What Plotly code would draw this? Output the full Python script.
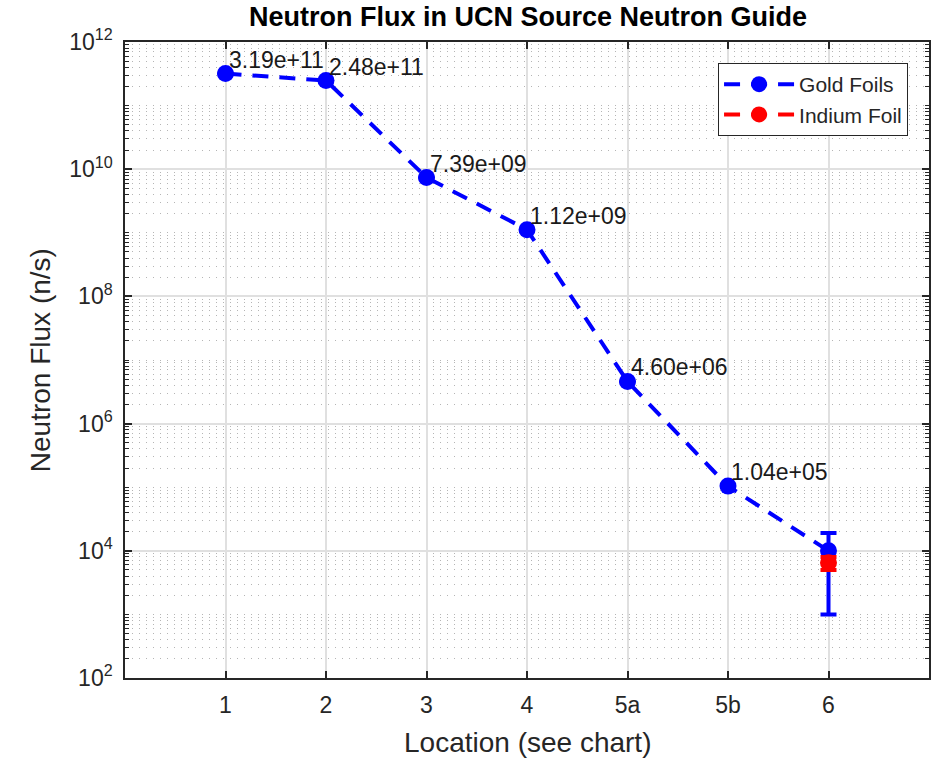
import plotly.graph_objects as go
import math

# ---- data ----
locations = ["1", "2", "3", "4", "5a", "5b", "6"]
gold_flux = [3.19e11, 2.48e11, 7.39e9, 1.12e9, 4.60e6, 1.04e5, 1.0e4]
gold_err = [0, 0, 0, 0, 0, 0, 9.0e3]
indium_loc = ["6"]
indium_flux = [6.5e3]
indium_err = [1.5e3]
label_text = ["3.19e+11", "2.48e+11", "7.39e+09", "1.12e+09", "4.60e+06", "1.04e+05"]
y_major = [1e2, 1e4, 1e6, 1e8, 1e10, 1e12]
y_major_text = ["10<sup>2</sup>", "10<sup>4</sup>", "10<sup>6</sup>", "10<sup>8</sup>",
                "10<sup>10</sup>", "10<sup>12</sup>"]

xpos = list(range(1, len(locations) + 1))
ind_x = [locations.index(l) + 1 for l in indium_loc]

y_minor = []
for k in range(2, 12):
    for n in range(1, 10):
        v = n * 10 ** k
        if n == 1 and k % 2 == 0:
            continue
        y_minor.append(v)

FONT = "Liberation Sans, Arial, Helvetica, sans-serif"
AX = "#262626"

fig = go.Figure()
fig.add_trace(go.Scatter(
    x=xpos, y=gold_flux, name="Gold Foils", mode="lines+markers",
    line=dict(color="#0000ff", width=4, dash="16px,11px"),
    marker=dict(color="#0000ff", size=17, symbol="circle"),
    error_y=dict(type="data", array=gold_err, visible=True, color="#0000ff",
                 thickness=4, width=8),
))
fig.add_trace(go.Scatter(
    x=ind_x, y=indium_flux, name="Indium Foil", mode="lines+markers",
    line=dict(color="#ff0000", width=4, dash="16px,11px"),
    marker=dict(color="#ff0000", size=17, symbol="circle"),
    error_y=dict(type="data", array=indium_err, visible=True, color="#ff0000",
                 thickness=4, width=8),
))

annotations = []
for i, t in enumerate(label_text):
    annotations.append(dict(
        x=xpos[i], y=math.log10(gold_flux[i]) + 0.22, xref="x", yref="y",
        text=t, showarrow=False, xanchor="left", yanchor="middle", xshift=1,
        font=dict(family=FONT, size=23, color="#1a1a1a"),
    ))
annotations.append(dict(
    x=0.5, y=-0.102, xref="paper", yref="paper", text="Location (see chart)",
    showarrow=False, xanchor="center", yanchor="middle",
    font=dict(family=FONT, size=28, color=AX),
))
annotations.append(dict(
    x=-0.1055, y=0.5, xref="paper", yref="paper", text="Neutron Flux (n/s)",
    showarrow=False, xanchor="center", yanchor="middle", textangle=-90,
    font=dict(family=FONT, size=28, color=AX),
))

fig.update_layout(
    width=941, height=760,
    margin=dict(l=125, r=10, t=42, b=82),
    paper_bgcolor="white", plot_bgcolor="white",
    title=dict(text="<b>Neutron Flux in UCN Source Neutron Guide</b>",
               x=(125 + 806 / 2) / 941, xanchor="center",
               y=1 - 17 / 760, yanchor="middle", yref="container",
               font=dict(family=FONT, size=27, color="#000000")),
    showlegend=True,
    legend=dict(x=(910 - 125) / 806, xanchor="right", y=(678 - 63) / 636, yanchor="top",
                bgcolor="white", bordercolor=AX, borderwidth=1,
                font=dict(family=FONT, size=21, color=AX), itemwidth=70,
                tracegroupgap=0),
    annotations=annotations,
)
fig.update_xaxes(
    range=[0, 8], tickmode="array", tickvals=xpos, ticktext=locations,
    showline=True, linecolor=AX, linewidth=1.5, mirror="ticks",
    ticks="inside", ticklen=7, tickcolor=AX, tickwidth=1.5,
    showgrid=True, gridcolor="#e0e0e0", gridwidth=1.5,
    tickfont=dict(family=FONT, size=23, color=AX), zeroline=False,
    ticklabelstandoff=6,
)
fig.update_yaxes(
    type="log", range=[2, 12], tickmode="array", tickvals=y_major, ticktext=y_major_text,
    showline=True, linecolor=AX, linewidth=1.5, mirror="ticks",
    ticks="inside", ticklen=7, tickcolor=AX, tickwidth=1.5,
    showgrid=True, gridcolor="#e0e0e0", gridwidth=1.5,
    tickfont=dict(family=FONT, size=23, color=AX), zeroline=False,
    minor=dict(tickmode="array", tickvals=y_minor, ticks="inside", ticklen=4,
               tickcolor=AX, tickwidth=1, showgrid=True, gridcolor="#b5b5b5",
               griddash="1px,6px", gridwidth=1),
    ticklabelstandoff=6,
)

fig.write_html("out.html")
